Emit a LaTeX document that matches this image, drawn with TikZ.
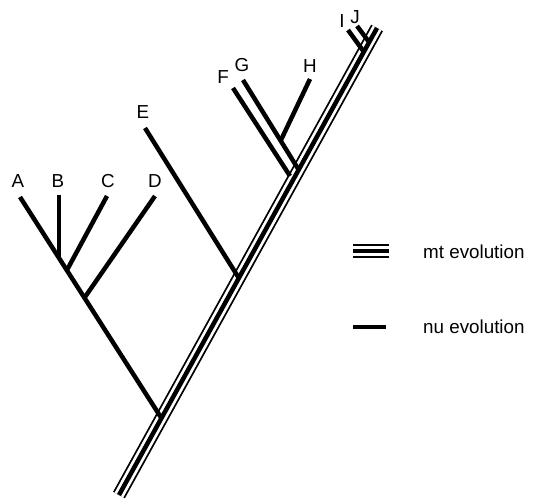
\documentclass[tikz,border=0pt]{standalone}
\usepackage{fontspec}
\setmainfont{Liberation Sans}
\begin{document}
\begin{tikzpicture}[x=1pt,y=-1pt,
  nu/.style={line width=4.5pt},
  thinl/.style={line width=1.8pt},
  mtouter/.style={line width=13.5pt},
  mtgap/.style={line width=9.9pt,white},
  lab/.style={font=\fontsize{18.8}{21}\selectfont, inner sep=0pt}]
\useasboundingbox (0,0) rectangle (535,500);
% trunk
\coordinate (t0) at (119,495);
\coordinate (t1) at (377,28);
\draw[mtouter] (t0) -- (t1);
\draw[mtgap] (t0) -- (t1);
\draw[nu] (t0) -- (t1);
% left clade
\coordinate (a) at (20,197);
\coordinate (ja) at (161.4,418.1);
\coordinate (b) at (59,195);
\coordinate (jb) at (59,258);
\coordinate (c) at (107,196);
\coordinate (jc) at (67,270);
\coordinate (d) at (155,196);
\coordinate (jd) at (85,297);
\draw[nu] (a) -- (ja);
\draw[nu] (b) -- (jb);
\draw[nu] (c) -- (jc);
\draw[nu] (d) -- (jd);
% E
\coordinate (e) at (145,128);
\coordinate (je) at (238.5,277.5);
\draw[nu] (e) -- (je);
% F G H
\coordinate (f) at (233,88);
\coordinate (jf) at (290,176);
\coordinate (g) at (243,80);
\coordinate (jg) at (298.7,169.8);
\coordinate (h) at (310,79);
\coordinate (jh) at (281,140);
\draw[nu] (f) -- (jf);
\draw[nu] (g) -- (jg);
\draw[nu] (h) -- (jh);
% I J
\coordinate (i) at (348,30);
\coordinate (ji) at (364,52);
\coordinate (j) at (357,26);
\coordinate (jj) at (369,42);
\draw[nu] (i) -- (ji);
\draw[nu] (j) -- (jj);
% labels
\node[lab] (lA) at (18,181) {A};
\node[lab] (lB) at (58,181) {B};
\node[lab] (lC) at (108,181) {C};
\node[lab] (lD) at (155,181) {D};
\node[lab] (lE) at (143,112) {E};
\node[lab] (lF) at (223,77) {F};
\node[lab] (lG) at (242,65) {G};
\node[lab] (lH) at (310,66) {H};
\node[lab] (lI) at (342,21) {I};
\node[lab] (lJ) at (355,17) {J};
% legend
\coordinate (m0) at (353,251);
\coordinate (m1) at (389,251);
\draw[thinl] ([yshift=-5.8pt]m0) -- ([yshift=-5.8pt]m1);
\draw[nu] (m0) -- (m1);
\draw[thinl] ([yshift=5.8pt]m0) -- ([yshift=5.8pt]m1);
\node[lab, anchor=west] (lmt) at (423,252) {mt evolution};
\coordinate (n0) at (353,327);
\coordinate (n1) at (386,327);
\draw[nu] (n0) -- (n1);
\node[lab, anchor=west] (lnu) at (423,327) {nu evolution};
\end{tikzpicture}
\end{document}
